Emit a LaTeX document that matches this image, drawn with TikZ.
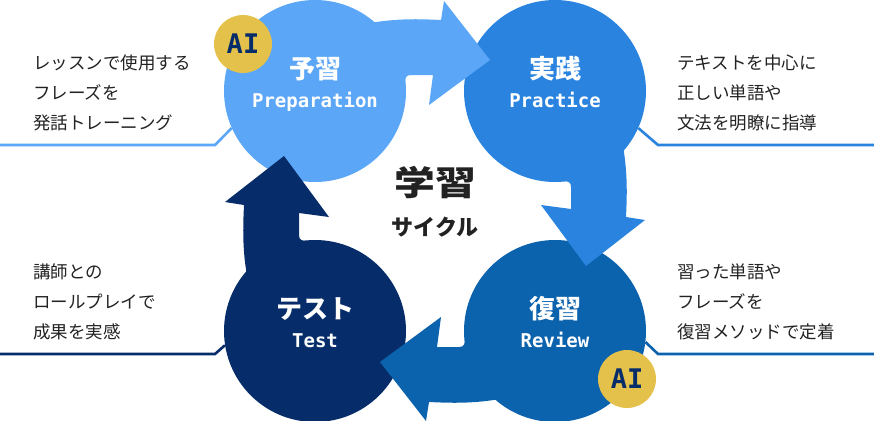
\documentclass[tikz,border=0pt]{standalone}
\usepackage{fontspec}
\setmainfont{Noto Sans CJK JP}
\newfontfamily\monob{DejaVu Sans Mono}
\usetikzlibrary{positioning}
\definecolor{prepblue}{HTML}{5BA6F6}
\definecolor{pracblue}{HTML}{2A84DF}
\definecolor{revblue}{HTML}{0B62AD}
\definecolor{testnavy}{HTML}{062D69}
\definecolor{aigold}{HTML}{E4C14B}
\definecolor{txtgray}{HTML}{222222}
\begin{document}
\begin{tikzpicture}[x=1pt, y=-1pt,
  phase/.style={circle, fill=#1, minimum size=182pt, inner sep=0pt},
  ttl/.style={font=\fontsize{26}{26}\selectfont\bfseries, text=white, inner sep=0pt},
  sub/.style={font=\monob\fontsize{19}{19}\selectfont\bfseries, text=white, inner sep=0pt, anchor=base},
  desc/.style={font=\fontsize{17.5}{30}\selectfont, text=txtgray, align=left, inner sep=0pt, anchor=west},
  badge/.style={circle, fill=aigold, minimum size=58pt, inner sep=0pt, text=testnavy, font=\monob\fontsize{27}{27}\selectfont\bfseries},
  lead/.style={draw=#1, line width=2.6pt}]
  \useasboundingbox (0,0) rectangle (874,420);

  \node[phase=prepblue] (prep) at (315,91) {};
  \node[phase=pracblue] (prac) at (555,91) {};
  \node[phase=revblue] (rev) at (555,331) {};
  \node[phase=testnavy] (test) at (315,331) {};

  \coordinate (l1a) at (215,145);
  \coordinate (l1b) at (0,145);
  \coordinate (l2a) at (658,145);
  \coordinate (l2b) at (874,145);
  \coordinate (l3a) at (658,354);
  \coordinate (l3b) at (874,354);
  \coordinate (l4a) at (215,354);
  \coordinate (l4b) at (0,354);
  \draw[lead=prepblue] (prep.204) -- (l1a) -- (l1b);
  \draw[lead=pracblue] (prac.-24) -- (l2a) -- (l2b);
  \draw[lead=revblue] (rev.-7) -- (l3a) -- (l3b);
  \draw[lead=testnavy] (test.189) -- (l4a) -- (l4b);

  \foreach \ang/\col in {0/prepblue, -90/pracblue, -180/revblue, -270/testnavy}
    \fill[\col, shift={(435,211)}, rotate=\ang] (-75,-168) -- (-70,-187)
      .. controls (-40,-193) and (-15,-192) .. (6,-191) -- (9,-210) -- (55,-151)
      -- (-6,-106) -- (-2,-136) -- (-24,-136) .. controls (-29,-136) and (-30,-133) .. (-30,-128)
      -- (-30,-118) -- (-45,-115) -- cycle;

  \node[ttl] (prepttl) at ([yshift=22pt]prep.center) {予習};
  \node[sub] (prepsub) at ([yshift=-16pt]prep.center) {Preparation};
  \node[ttl] (practtl) at ([yshift=22pt]prac.center) {実践};
  \node[sub] (pracsub) at ([yshift=-16pt]prac.center) {Practice};
  \node[ttl] (revttl) at ([yshift=22pt]rev.center) {復習};
  \node[sub] (revsub) at ([yshift=-16pt]rev.center) {Review};
  \node[ttl] (testttl) at ([yshift=22pt]test.center) {テスト};
  \node[sub] (testsub) at ([yshift=-16pt]test.center) {Test};

  \node[desc] (dprep) at (33,93) {レッスンで使用する\\フレーズを\\発話トレーニング};
  \node[desc] (dprac) at (677,93) {テキストを中心に\\正しい単語や\\文法を明瞭に指導};
  \node[desc] (drev) at (677,302) {習った単語や\\フレーズを\\復習メソッドで定着};
  \node[desc] (dtest) at (33,302) {講師との\\ロールプレイで\\成果を実感};

  \node[font=\fontsize{34}{34}\selectfont\bfseries, text=txtgray, inner sep=0pt] (cyc) at (435,183) {\scalebox{1.2}[1]{学習}};
  \node[font=\fontsize{22}{22}\selectfont\bfseries, text=txtgray, inner sep=0pt] (cycsub) at (435,227) {サイクル};

  \node[badge] (ai1) at (243,44) {AI};
  \node[badge] (ai2) at (627,379) {AI};
\end{tikzpicture}
\end{document}
